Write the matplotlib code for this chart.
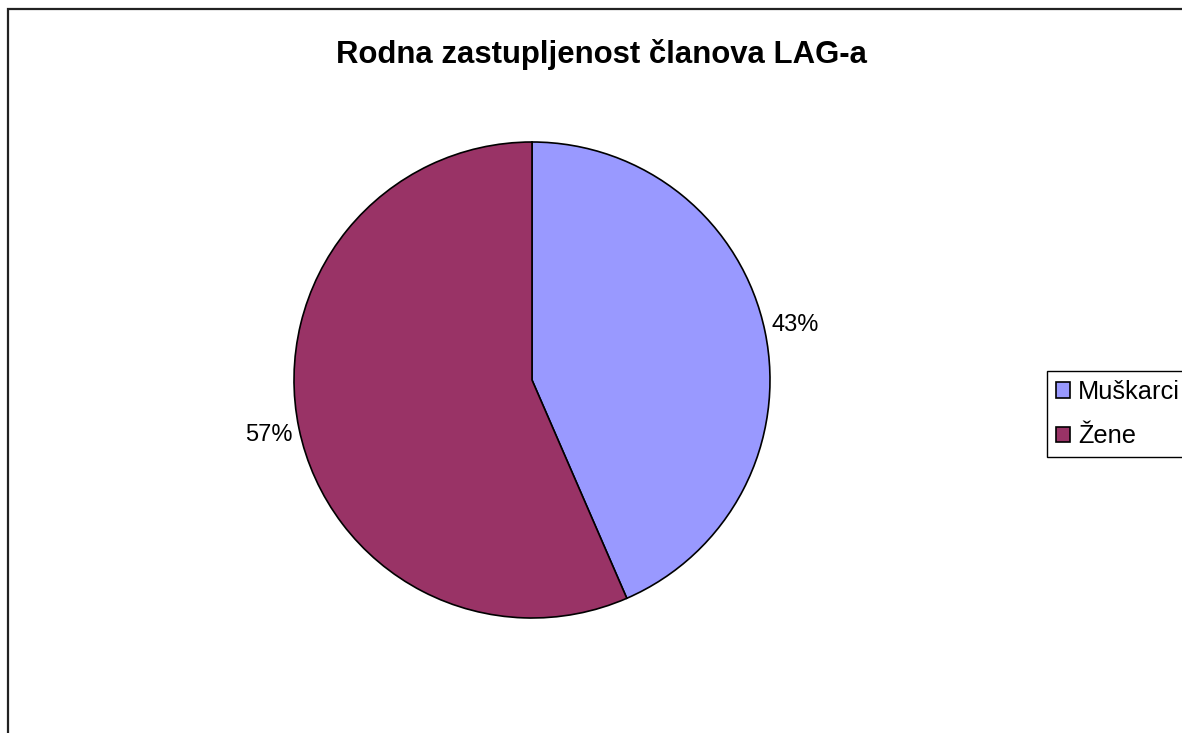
import matplotlib.pyplot as plt
from matplotlib.patches import Rectangle, Patch

labels = ['Muškarci', 'Žene']
counts = [10, 13]
colors = ['#9999FF', '#993366']

plt.rcParams['font.family'] = ['Liberation Sans', 'DejaVu Sans']

W, H = 1182, 733
fig = plt.figure(figsize=(W / 100, H / 100), dpi=100)

# outer chart frame (right/bottom edges fall outside the image)
fig.patches.append(Rectangle((7.5 / W, -0.1), 1.2, 1 - 9.5 / H + 0.1,
                             transform=fig.transFigure, fill=False,
                             edgecolor='#222222', linewidth=1.6))

cx, cy, r = 532, 380, 238
ax = fig.add_axes([(cx - r) / W, (H - cy - r) / H, 2 * r / W, 2 * r / H])
wedges, texts, autotexts = ax.pie(
    counts, colors=colors, startangle=90, counterclock=False,
    autopct='%.0f%%', pctdistance=1.13,
    wedgeprops={'edgecolor': 'black', 'linewidth': 1.2},
    textprops={'fontsize': 17})
ax.set_xlim(-1, 1)
ax.set_ylim(-1, 1)
ax.set_aspect('auto')
ax.axis('off')

fig.text(602 / W, 1 - 55 / H, 'Rodna zastupljenost članova LAG-a',
         ha='center', va='center', fontsize=22.4, fontweight='bold')

handles = [Patch(facecolor=c, edgecolor='black', linewidth=1.2) for c in colors]
leg = fig.legend(handles, labels, loc='upper left',
                 bbox_to_anchor=(1047 / W, 1 - 371 / H),
                 fontsize=18.3, fancybox=False, framealpha=1,
                 edgecolor='black', handlelength=0.56, handleheight=0.56,
                 handletextpad=0.3, borderpad=0.35, labelspacing=0.8,
                 borderaxespad=0)
leg.get_frame().set_linewidth(1)

fig.savefig('out.png', dpi=100)
